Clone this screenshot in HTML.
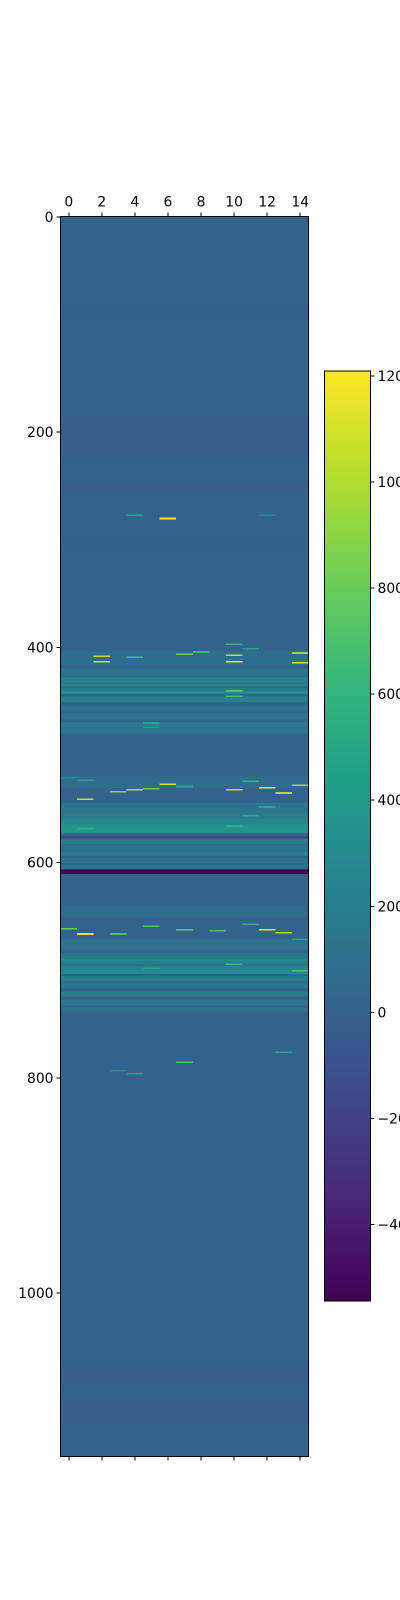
<!DOCTYPE html>
<html><head><meta charset="utf-8"><style>
html,body{margin:0;padding:0;background:#fff;width:400px;height:1600px;overflow:hidden}
svg text{font-family:"DejaVu Sans","Liberation Sans",sans-serif;font-size:13.9px;fill:#000}
</style></head><body>
<svg id="chart" width="400" height="1600" viewBox="0 0 400 1600" xmlns="http://www.w3.org/2000/svg" shape-rendering="crispEdges">
<defs><linearGradient id="vgrad" x1="0" y1="1" x2="0" y2="0"></linearGradient></defs>
<g id="cells"></g>
<g id="axes"></g>
<g id="cbar"></g>
</svg>
<script>
// ---- data ----
const nRows = 1152;
const nCols = 15;
const baseValue = 10;
const stripeStarts = [84, 186, 248, 300, 404, 420, 428, 434, 438, 441, 446, 455, 462, 470, 476, 520, 545, 555, 560, 565, 576, 578, 584, 590, 596, 602, 607, 640, 672, 685, 690, 692, 696, 700, 706, 712, 720, 728, 735, 900, 1065, 1100];
const stripeEnds   = [93, 224, 254, 310, 416, 426, 432, 436, 440, 443, 450, 458, 466, 474, 480, 530, 555, 560, 565, 572, 577, 582, 588, 593, 600, 605, 610, 650, 680, 690, 692, 694, 699, 703, 710, 716, 724, 732, 738, 905, 1085, 1120];
const stripeVals   = [-15, -20, -20, -10, 80, 130, 200, 290, 180, 320, 240, 140, 110, 170, 130, 70, 140, 190, 270, 370, -200, 190, 140, 210, 110, 150, -544, 60, 110, 160, 290, 210, 250, 300, 200, 150, 180, 140, 110, -5, -15, -20];
const cellRows = [280, 277, 277, 408, 413, 407, 413, 405, 414, 409, 406, 401, 397, 404, 470, 474, 541, 534, 532, 531, 527, 529, 532, 530, 535, 528, 524, 521, 523, 556, 548, 661, 666, 666, 659, 662, 663, 657, 662, 665, 671, 700, 694, 698, 785, 776, 796, 793, 566, 568, 440, 445];
const cellCols = [6, 4, 12, 2, 2, 10, 10, 14, 14, 4, 7, 11, 10, 8, 5, 5, 1, 3, 4, 5, 6, 7, 10, 12, 13, 14, 11, 0, 1, 11, 12, 0, 1, 3, 5, 7, 9, 11, 12, 13, 14, 14, 10, 5, 7, 13, 4, 3, 10, 1, 10, 10];
const cellVals = [1200, 450, 300, 1050, 1100, 1050, 1200, 950, 1100, 700, 800, 500, 600, 600, 500, 450, 1050, 900, 1000, 800, 1100, 500, 1050, 1150, 1000, 950, 600, 300, 500, 550, 500, 800, 1150, 700, 700, 800, 700, 600, 1150, 1000, 500, 700, 650, 500, 700, 500, 450, 300, 600, 550, 800, 700];
const xTicks = [0, 2, 4, 6, 8, 10, 12, 14];
const yTicks = [0, 200, 400, 600, 800, 1000];
const cbTicks = [-400, -200, 0, 200, 400, 600, 800, 1000, 1200];
const vMin = -544, vMax = 1209;

// ---- layout ----
const L = 60.5, R = 308.5, T = 216.3, B = 1456.3;
const cw = (R - L) / nCols, rh = (B - T) / nRows;
const xCol = c => L + c * cw;
const yRow = r => T + r * rh;
const CBL = 324.5, CBR = 370.5, CBT = 371, CBB = 1301;
const yCb = v => CBB - (v - vMin) / (vMax - vMin) * (CBB - CBT);

const VIR = ["#440154","#482878","#3e4989","#31688e","#26828e","#1f9e89","#35b779","#6ece58","#b5de2b","#fde725"];
function hex(h){return [1,3,5].map(i=>parseInt(h.substr(i,2),16));}
function viridis(t){
  t=Math.max(0,Math.min(1,t));const p=t*(VIR.length-1);const i=Math.min(VIR.length-2,Math.floor(p));const f=p-i;
  const a=hex(VIR[i]),b=hex(VIR[i+1]);
  return "rgb("+a.map((x,k)=>Math.round(x+(b[k]-x)*f)).join(",")+")";
}
const col = v => viridis((v - vMin) / (vMax - vMin));
const NS = "http://www.w3.org/2000/svg";
function mk(tag, attrs, parent){const e=document.createElementNS(NS,tag);for(const k in attrs)e.setAttribute(k,attrs[k]);parent.appendChild(e);return e;}

const cells = document.getElementById('cells');
const bg = mk('rect',{x:L,y:T,width:R-L,height:B-T,fill:col(baseValue)},cells);


stripeStarts.forEach((s,i)=>{
  const r = mk('rect',{x:L,y:yRow(s),width:R-L,height:(stripeEnds[i]-s+1)*rh,fill:col(stripeVals[i])},cells);
  
  
});
cellRows.forEach((rw,i)=>{
  const r = mk('rect',{x:xCol(cellCols[i]),y:yRow(rw),width:cw,height:Math.max(rh,1.6),fill:col(cellVals[i])},cells);
  
  
});

const ax = document.getElementById('axes');
const frame = mk('rect',{x:L,y:T,width:R-L,height:B-T,fill:'none',stroke:'#000','stroke-width':1},ax);


xTicks.forEach(t=>{
  const x = xCol(t)+cw/2;
  mk('line',{x1:x,x2:x,y1:T-4,y2:T,stroke:'#000'},ax);
  mk('line',{x1:x,x2:x,y1:B,y2:B+4,stroke:'#000'},ax);
  const tx = mk('text',{x:x,y:T-10,'text-anchor':'middle'},ax);
  tx.textContent = t;
  
  
});
yTicks.forEach(t=>{
  const y = yRow(t)+rh/2;
  mk('line',{x1:L-4,x2:L,y1:y,y2:y,stroke:'#000'},ax);
  const tx = mk('text',{x:L-7,y:y+5,'text-anchor':'end'},ax);
  tx.textContent = t;
  
  
});

const g = document.getElementById('vgrad');
VIR.forEach((c,i)=>mk('stop',{offset:(i/(VIR.length-1)*100)+'%','stop-color':c},g));
const cb = document.getElementById('cbar');
const cbr = mk('rect',{x:CBL,y:CBT,width:CBR-CBL,height:CBB-CBT,fill:'url(#vgrad)',stroke:'#000','stroke-width':1},cb);


cbTicks.forEach(t=>{
  const y = yCb(t);
  mk('line',{x1:CBR,x2:CBR+4,y1:y,y2:y,stroke:'#000'},cb);
  const tx = mk('text',{x:CBR+7,y:y+5},cb);
  tx.textContent = t < 0 ? '\u2212'+(-t) : t;
  
  
});
</script>
</body></html>
